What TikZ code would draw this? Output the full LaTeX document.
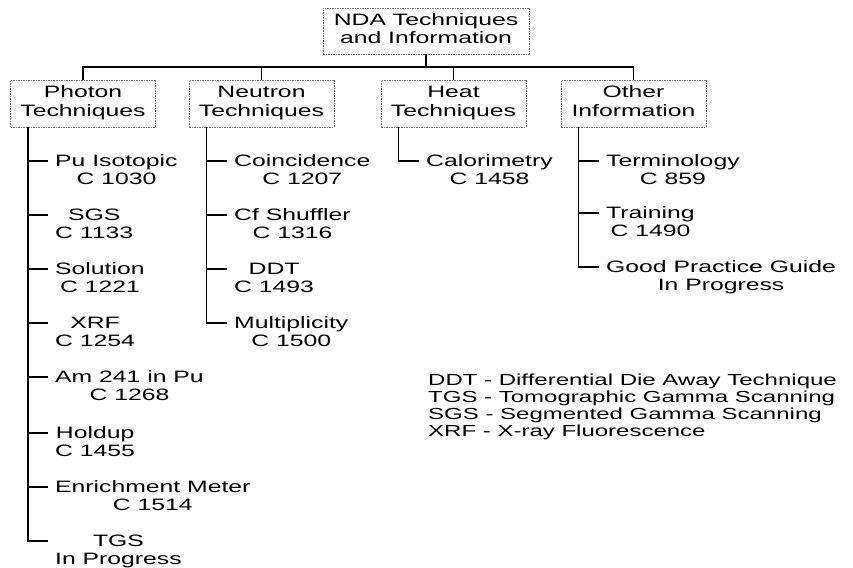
\documentclass[tikz,border=0pt]{standalone}
\usepackage{fontspec}
\setmainfont{Liberation Sans}
\usepackage{graphicx}
\newcommand{\sx}[1]{\scalebox{1.5}[1]{\begin{tabular}{@{}c@{}}#1\end{tabular}}}
\newcommand{\sxl}[1]{\scalebox{1.5}[1]{\begin{tabular}{@{}l@{}}#1\end{tabular}}}
\tikzset{
  box/.style={draw=black!55, dash pattern=on 1.5pt off 1pt, line width=0.9pt,
    minimum width=145pt, minimum height=47pt, inner sep=0pt,
    font=\fontsize{16.5}{18.5}\selectfont},
  item/.style={anchor=north west, inner sep=0pt, font=\fontsize{16.5}{18}\selectfont},
  legend/.style={anchor=north west, inner sep=0pt, font=\fontsize{16}{17}\selectfont},
  conn/.style={line width=1.8pt, black}
}
\begin{document}
\begin{tikzpicture}[x=1pt,y=-1pt]
\path[use as bounding box, fill=white] (0,0) rectangle (853,567);

% top and category boxes
\node[box, minimum width=206pt, minimum height=46pt] (top) at (426,31) {\sx{NDA Techniques\\and Information}};
\node[box] (photon) at (83,103.5) {\sx{Photon\\Techniques}};
\node[box] (neutron) at (261.5,103.5) {\sx{Neutron\\Techniques}};
\node[box] (heat) at (453.5,103.5) {\sx{Heat\\Techniques}};
\node[box] (other) at (633.5,103.5) {\sx{Other\\Information}};

\coordinate (busY) at (0,67);
\draw[conn] (top.south) -- (top.south |- busY);
\draw[conn] (photon.north) -- (photon.north |- busY) -| (other.north);
\draw[conn] (neutron.north) -- (neutron.north |- busY);
\draw[conn] (heat.north) -- (heat.north |- busY);

% stems
\coordinate (ps) at ([xshift=18pt]photon.south west);
\coordinate (ns) at ([xshift=18pt]neutron.south west);
\coordinate (hs) at ([xshift=18pt]heat.south west);
\coordinate (os) at ([xshift=18pt]other.south west);

% photon items
\coordinate (p1b) at (48,161); \node[item] (p1) at (55,154) {\sx{Pu Isotopic\\C 1030}};
\coordinate (p2b) at (48,215); \node[item] (p2) at (55,208) {\sx{SGS\\C 1133}};
\coordinate (p3b) at (48,269); \node[item] (p3) at (55,262) {\sx{Solution\\C 1221}};
\coordinate (p4b) at (48,323); \node[item] (p4) at (55,316) {\sx{XRF\\C 1254}};
\coordinate (p5b) at (48,377); \node[item] (p5) at (55,370) {\sx{Am 241 in Pu\\C 1268}};
\coordinate (p6b) at (48,433); \node[item] (p6) at (55,426) {\sx{Holdup\\C 1455}};
\coordinate (p7b) at (48,487); \node[item] (p7) at (55,480) {\sx{Enrichment Meter\\C 1514}};
\coordinate (p8b) at (48,541); \node[item] (p8) at (55,534) {\sx{TGS\\In Progress}};
\draw[conn] (ps) |- (p8b);
\foreach \i in {1,...,7} {\draw[conn] (ps |- p\i b) -- (p\i b);}

% neutron items
\coordinate (n1b) at (227,161); \node[item] (n1) at (234,154) {\sx{Coincidence\\C 1207}};
\coordinate (n2b) at (227,215); \node[item] (n2) at (234,208) {\sx{Cf Shuffler\\C 1316}};
\coordinate (n3b) at (227,269); \node[item] (n3) at (234,262) {\sx{DDT\\C 1493}};
\coordinate (n4b) at (227,323); \node[item] (n4) at (234,316) {\sx{Multiplicity\\C 1500}};
\draw[conn] (ns) |- (n4b);
\foreach \i in {1,...,3} {\draw[conn] (ns |- n\i b) -- (n\i b);}

% heat items
\coordinate (h1b) at (419,161); \node[item] (h1) at (426,154) {\sx{Calorimetry\\C 1458}};
\draw[conn] (hs) |- (h1b);

% other items
\coordinate (o1b) at (599,161); \node[item] (o1) at (606,154) {\sx{Terminology\\C 859}};
\coordinate (o2b) at (599,213); \node[item] (o2) at (606,206) {\sx{Training\\C 1490}};
\coordinate (o3b) at (599,267); \node[item] (o3) at (606,260) {\sx{Good Practice Guide\\In Progress}};
\draw[conn] (os) |- (o3b);
\foreach \i in {1,2} {\draw[conn] (os |- o\i b) -- (o\i b);}

% legend
\node[legend] (leg) at (428,373) {\sxl{DDT - Differential Die Away Technique\\TGS - Tomographic Gamma Scanning\\SGS - Segmented Gamma Scanning\\XRF - X-ray Fluorescence}};
\end{tikzpicture}
\end{document}
